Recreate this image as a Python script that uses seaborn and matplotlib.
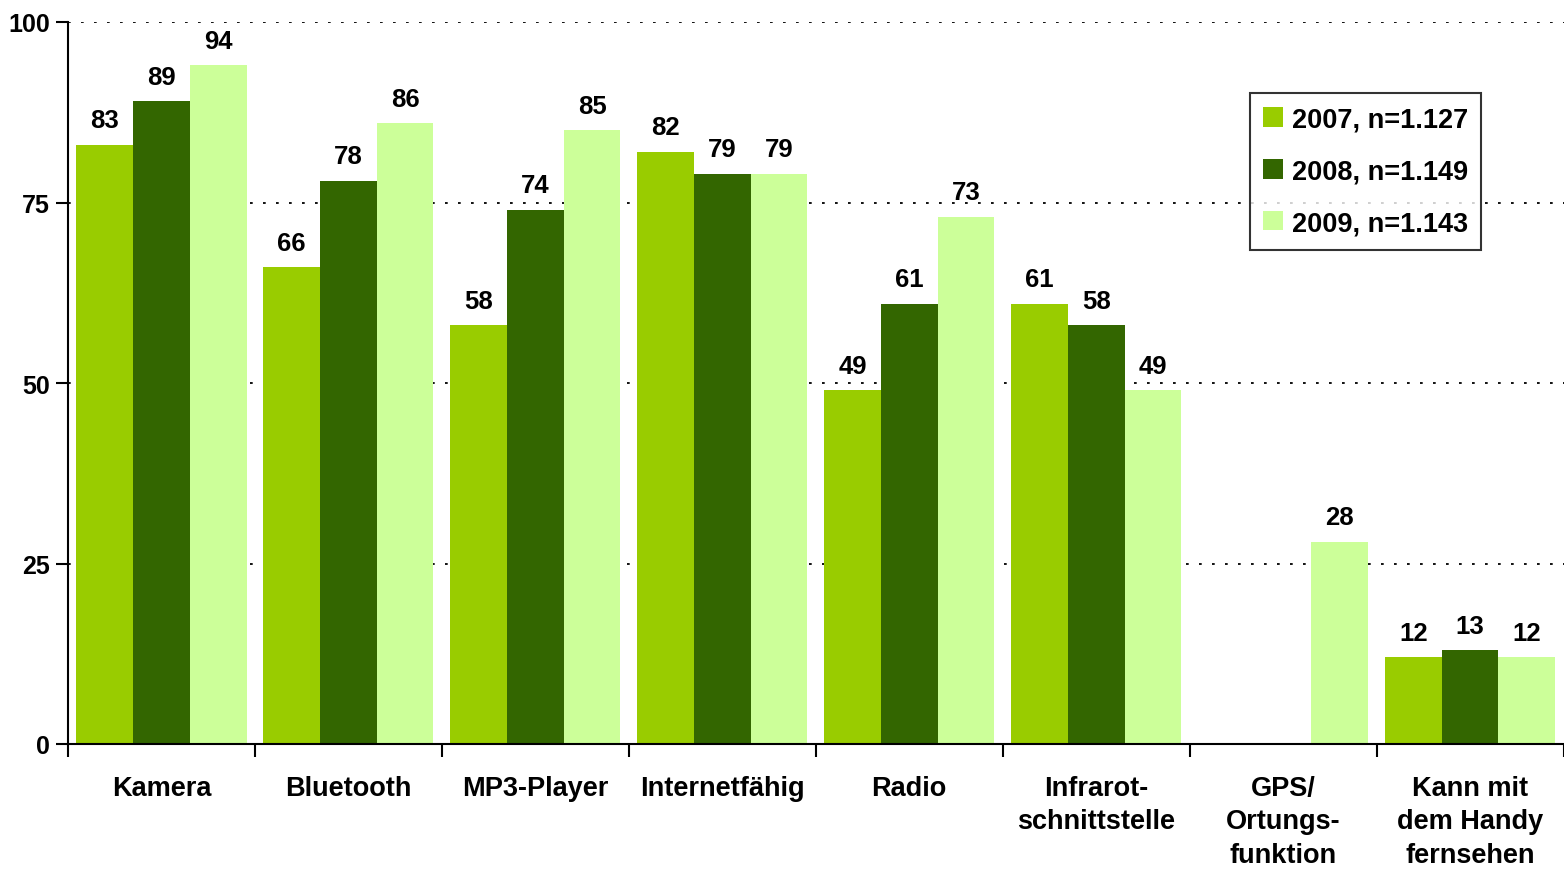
import numpy as np
import pandas as pd
import matplotlib
matplotlib.use("Agg")
import matplotlib.pyplot as plt
import seaborn as sns

categories = ["Kamera", "Bluetooth", "MP3-Player", "Internetfähig", "Radio",
              "Infrarot-\nschnittstelle", "GPS/\nOrtungs-\nfunktion",
              "Kann mit\ndem Handy\nfernsehen"]
series_names = ["2007, n=1.127", "2008, n=1.149", "2009, n=1.143"]
values_2007 = [83, 66, 58, 82, 49, 61, np.nan, 12]
values_2008 = [89, 78, 74, 79, 61, 58, np.nan, 13]
values_2009 = [94, 86, 85, 79, 73, 49, 28, 12]
colors = ["#99CC00", "#336600", "#CCFF99"]
yticks = [0, 25, 50, 75, 100]

rows = []
for name, vals in zip(series_names, [values_2007, values_2008, values_2009]):
    for c, v in zip(categories, vals):
        rows.append({"cat": c, "series": name, "value": v})
df = pd.DataFrame(rows)

sns.set_theme(style="white")
plt.rcParams["font.family"] = ["Liberation Sans", "DejaVu Sans"]
plt.rcParams["font.weight"] = "bold"
plt.rcParams["text.color"] = "black"
plt.rcParams["xtick.color"] = "black"
plt.rcParams["ytick.color"] = "black"
plt.rcParams["xtick.bottom"] = True
plt.rcParams["ytick.left"] = True

fig = plt.figure(figsize=(15.64, 8.7), dpi=100)
ax = fig.add_axes([68/1564, 1-745/870, 1-68/1564 - 0.5/1564, (745-23)/870])

sns.barplot(data=df, x="cat", y="value", hue="series", palette=colors,
            width=0.91, gap=0, saturation=1, ax=ax, errorbar=None, zorder=3,
            linewidth=0, edgecolor="none")

for cont in ax.containers:
    labels = ["" if np.isnan(v) else f"{int(v)}" for v in cont.datavalues]
    ax.bar_label(cont, labels=labels, padding=9, fontsize=18.5,
                 fontweight="bold", color="black")

ax.set_ylim(0, 100)
ax.set_xlim(-0.5, len(categories) - 0.5)
ax.set_yticks(yticks)
ax.set_yticklabels([str(t) for t in yticks], fontsize=18, fontweight="bold")
ax.set_xticks(range(len(categories)))
ax.set_xticklabels(categories, fontsize=19.5, fontweight="bold", linespacing=1.38)
ax.tick_params(axis="x", which="major", length=0, pad=22)
ax.set_xticks(np.arange(-0.5, len(categories), 1), minor=True)
ax.tick_params(axis="x", which="minor", length=9, width=1.5, color="black",
               direction="out", bottom=True)
ax.tick_params(axis="y", length=9, width=1.5, color="black", direction="out",
               pad=4, left=True)
ax.set_xlabel("")
ax.set_ylabel("")

for y in yticks[1:]:
    ax.axhline(y, color="black", linestyle=(0, (1.5, 5.7)), linewidth=1.3, zorder=1)

for s in ["top", "right"]:
    ax.spines[s].set_visible(False)
for s in ["left", "bottom"]:
    ax.spines[s].set_color("black")
    ax.spines[s].set_linewidth(1.5)
    ax.spines[s].set_zorder(4)

leg = ax.legend(loc="upper left", bbox_to_anchor=((1250-68)/(1564-68), 1-(94-23)/722),
                frameon=True, fancybox=False, edgecolor="black", fontsize=19.5,
                handlelength=0.75, handleheight=0.75, handletextpad=0.3,
                labelspacing=0.95, borderpad=0.5, borderaxespad=0, title=None)
leg.get_frame().set_linewidth(1.5)
for t in leg.get_texts():
    t.set_fontweight("bold")
    t.set_color("black")

fig.savefig("out.png", dpi=100, facecolor="white")
